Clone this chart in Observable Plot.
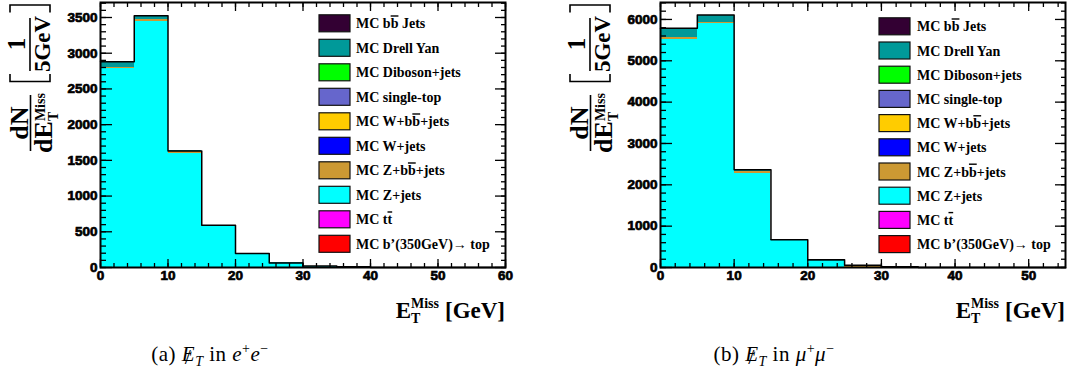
<!DOCTYPE html>
<html><head><meta charset="utf-8">
<script src="https://cdn.jsdelivr.net/npm/d3@7"></script>
<script src="https://cdn.jsdelivr.net/npm/@observablehq/plot@0.6"></script>
<style>
html,body{margin:0;padding:0;background:#fff;}
#root{position:relative;width:1082px;height:382px;overflow:hidden;background:#fff;}
.panel{position:absolute;top:0;}
svg.panel text{font-family:"Liberation Sans",Arial,sans-serif !important;font-weight:bold !important;font-size:13.5px !important;stroke:#000;stroke-width:0.7px;fill:#000;}
#overlay{position:absolute;left:0;top:0;pointer-events:none;}
#overlay text{font-family:"Liberation Serif","Times New Roman",serif;font-weight:bold;}
.cap{position:absolute;top:341px;font-family:"Liberation Serif",serif;font-size:21px;letter-spacing:0.5px;white-space:nowrap;transform:translateX(-50%);color:#000;}
.cap i{font-style:italic;}
.es{position:relative;display:inline-block;font-style:italic;}
.es::after{content:"/";position:absolute;left:3px;top:2px;font-style:normal;font-size:22px;}
.cap sub,.cap sup{font-size:14px;}
</style></head>
<body><div id="root"></div>
<script>
// Legend / series names (top to bottom as in legend) and their fill colours
const names = ["MC bb\u0305 Jets","MC Drell Yan","MC Diboson+jets","MC single-top","MC W+bb\u0305+jets","MC W+jets","MC Z+bb\u0305+jets","MC Z+jets","MC tt\u0305","MC b\u2019(350GeV)\u2192 top"];
const colors = ["#330033","#009999","#00ff00","#6666cc","#ffcc00","#0000ff","#cc9933","#00ffff","#ff00ff","#ff0000"];
const stackOrder = names.slice().reverse();

// (a) e+e- : bins of 5 GeV, lower edges
const eeEdges = [0,5,10,15,20,25,30,35,40,45,50,55];
const eeZJets    = [2780,3440,1590,575,188,58,8,10,0,0,0,0];
const eeZbb      = [22,28,30,12,3,2,0,0,0,0,0,0];
const eeDrellYan = [80,57,12,4,4,4,3,0,0,0,0,0];
const eeDiboson  = [0,0,0,0,0,0,10,0,0,0,0,0];
const eeYTicks = [0,500,1000,1500,2000,2500,3000,3500];
const eeXTicks = [0,10,20,30,40,50,60];

// (b) mu+mu-
const mmEdges = [0,5,10,15,20,25,30,35,40,45,50];
const mmZJets    = [5516,5896,2282,655,150,12,0,0,0,0,0];
const mmZbb      = [44,39,38,8,3,2,0,0,0,0,0];
const mmDrellYan = [230,170,44,7,35,38,0,0,0,0,0];
const mmWJets    = [0,0,0,0,0,0,20,0,0,0,0];
const mmYTicks = [0,1000,2000,3000,4000,5000,6000];
const mmXTicks = [0,10,20,30,40,50];

function makePanel({edges, binWidth, series, yMax, xMax, yTicks, yMinorStep, xTicks, width, marginRight}) {
  const rows = [];
  for (const [name, vals] of series) vals.forEach((v, i) => rows.push({series: name, x1: edges[i], x2: edges[i] + binWidth, n: v}));
  const totals = edges.map((_, i) => d3.sum(series, ([, vals]) => vals[i]));
  const outline = edges.map((e, i) => ({x: e, y: totals[i]})).concat([{x: edges[edges.length - 1] + binWidth, y: 0}]);
  const yMinor = d3.range(0, yMax, yMinorStep);
  const xMinor = d3.range(0, xMax + 0.001, 2);
  const lab = {fontSize: 13.5, fontWeight: "bold", label: null, strokeWidth: 1.3};
  return Plot.plot({
    width, height: 300, marginLeft: 100, marginRight, marginTop: 2, marginBottom: 33,
    x: {domain: [0, xMax]}, y: {domain: [0, yMax]},
    color: {domain: names, range: colors},
    style: {fontFamily: "'Liberation Sans', Arial, sans-serif", fontSize: "13.5px", fontWeight: "bold", color: "black", background: "white"},
    marks: [
      Plot.rectY(rows, {x1: "x1", x2: "x2", y: "n", fill: "series", order: stackOrder, inset: 0, shapeRendering: "crispEdges"}),
      Plot.line(outline, {x: "x", y: "y", curve: "step-after", stroke: "black", strokeWidth: 1.5}),
      Plot.axisY({...lab, ticks: yTicks, anchor: "left", tickSize: -12, tickPadding: 15, tickFormat: d => String(d)}),
      Plot.axisY({...lab, ticks: yMinor, anchor: "left", tickSize: -6, tickFormat: () => ""}),
      Plot.axisY({...lab, ticks: yTicks, anchor: "right", tickSize: -11, tickFormat: () => ""}),
      Plot.axisY({...lab, ticks: yMinor, anchor: "right", tickSize: -5, tickFormat: () => ""}),
      Plot.axisX({...lab, ticks: xTicks, anchor: "bottom", tickSize: -8, tickPadding: 11, tickFormat: d => String(d)}),
      Plot.axisX({...lab, ticks: xMinor, anchor: "bottom", tickSize: -4, tickFormat: () => ""}),
      Plot.axisX({...lab, ticks: xTicks, anchor: "top", tickSize: -8, tickFormat: () => ""}),
      Plot.axisX({...lab, ticks: xMinor, anchor: "top", tickSize: -4, tickFormat: () => ""}),
      Plot.frame({stroke: "black", strokeWidth: 2})
    ]
  });
}

const root = document.getElementById("root");
const pA = makePanel({edges: eeEdges, binWidth: 5,
  series: [[names[7], eeZJets], [names[6], eeZbb], [names[2], eeDiboson], [names[1], eeDrellYan]],
  yMax: 3710, xMax: 60, yTicks: eeYTicks, yMinorStep: 100, xTicks: eeXTicks, width: 540, marginRight: 35});
pA.classList.add("panel"); pA.style.left = "0px";
root.appendChild(pA);
const pB = makePanel({edges: mmEdges, binWidth: 5,
  series: [[names[7], mmZJets], [names[6], mmZbb], [names[5], mmWJets], [names[1], mmDrellYan]],
  yMax: 6410, xMax: 55, yTicks: mmYTicks, yMinorStep: 200, xTicks: mmXTicks, width: 522, marginRight: 17});
pB.classList.add("panel"); pB.style.left = "560px";
root.appendChild(pB);

// Overlay: titles & legends
const svg = d3.select(root).append("svg").attr("id", "overlay").attr("width", 1082).attr("height", 382);

function legend(x0, xText, yc0, step) {
  const g = svg.append("g").style("font-size", "14px");
  names.forEach((name, i) => {
    const yc = yc0 + step * i;
    g.append("rect").attr("x", x0).attr("y", yc - 8.5).attr("width", 31).attr("height", 17)
      .attr("fill", colors[i]).attr("stroke", "#111").attr("stroke-width", 1.2);
    const t = g.append("text").attr("x", xText).attr("y", yc + 5);
    const parts = name.split(/(.\u0305)/);
    parts.forEach(p => {
      if (!p) return;
      if (p.endsWith("\u0305")) t.append("tspan").style("text-decoration", "overline").text(p[0]);
      else t.append("tspan").text(p);
    });
  });
}
legend(319, 356, 23.3, 24.5);
legend(879, 917, 26.3, 24.2);

function xTitle(right, base) {
  const g = svg.append("g");
  const e = g.append("text").style("font-size", "23px").attr("y", base).text("E");
  const sup = g.append("text").style("font-size", "14px").attr("y", base - 10).text("Miss");
  const sub = g.append("text").style("font-size", "14px").attr("y", base + 5).text("T");
  const gev = g.append("text").style("font-size", "23px").attr("y", base).text("[GeV]");
  const wE = e.node().getComputedTextLength();
  const wS = Math.max(sup.node().getComputedTextLength(), sub.node().getComputedTextLength());
  const wG = gev.node().getComputedTextLength();
  const x0 = right - (wE + wS + 6 + wG);
  e.attr("x", x0); sup.attr("x", x0 + wE); sub.attr("x", x0 + wE); gev.attr("x", x0 + wE + wS + 6);
}
xTitle(505, 318);
xTitle(1065, 318);

function yTitle(ox) {
  // rotated group: page x = ox + v, page y = -u
  const g = svg.append("g").attr("transform", `translate(${ox},0) rotate(-90)`).attr("fill", "#000");
  g.append("text").attr("x", -123).attr("y", 28).style("font-size", "26px").attr("text-anchor", "middle").text("dN");
  g.append("line").attr("x1", -151).attr("x2", -95).attr("y1", 30.5).attr("y2", 30.5).attr("stroke", "#000").attr("stroke-width", 1.6);
  const de = g.append("text").attr("y", 52).style("font-size", "26px").text("dE");
  const ms = g.append("text").attr("y", 45).style("font-size", "14px").text("Miss");
  const tt = g.append("text").attr("y", 58).style("font-size", "14px").text("T");
  const wd = de.node().getComputedTextLength(), wm = ms.node().getComputedTextLength();
  const x0 = -123 - (wd + wm) / 2;
  de.attr("x", x0); ms.attr("x", x0 + wd); tt.attr("x", x0 + wd);
  g.append("text").attr("x", -44).attr("y", 25).style("font-size", "25px").attr("text-anchor", "middle").text("1");
  g.append("line").attr("x1", -71).attr("x2", -18).attr("y1", 30).attr("y2", 30).attr("stroke", "#000").attr("stroke-width", 1.6);
  g.append("text").attr("x", -44).attr("y", 50).style("font-size", "23px").attr("text-anchor", "middle").text("5GeV");
  g.append("path").attr("d", "M-74,10 L-81.5,10 L-81.5,50 L-74,50").attr("fill", "none").attr("stroke", "#000").attr("stroke-width", 1.6);
  g.append("path").attr("d", "M-12.5,10 L-5,10 L-5,50 L-12.5,50").attr("fill", "none").attr("stroke", "#000").attr("stroke-width", 1.6);
}
yTitle(0);
yTitle(560);

// Captions
function caption(cx, html) {
  const d = document.createElement("div");
  d.className = "cap"; d.style.left = cx + "px"; d.innerHTML = html;
  root.appendChild(d);
}
caption(210, '(a) <span class="es">E</span><sub><i>T</i></sub> in <i>e</i><sup>+</sup><i>e</i><sup>\u2212</sup>');
caption(774, '(b) <span class="es">E</span><sub><i>T</i></sub> in <i>\u03bc</i><sup>+</sup><i>\u03bc</i><sup>\u2212</sup>');
</script>
</body></html>
